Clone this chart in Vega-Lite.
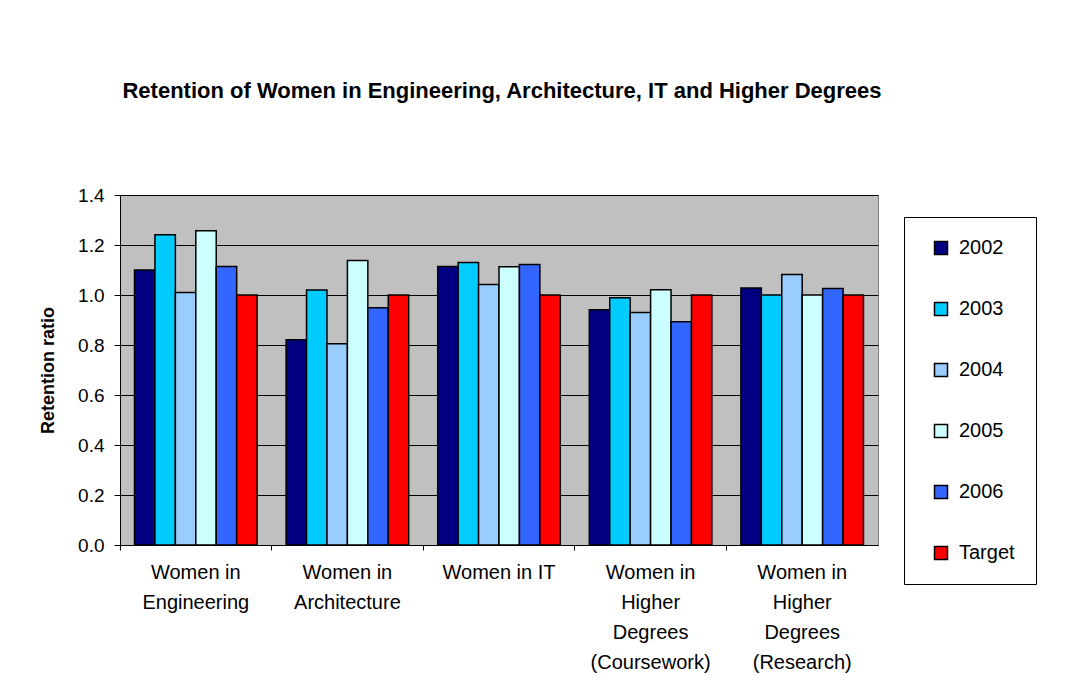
{
  "$schema": "https://vega.github.io/schema/vega-lite/v6.json",
  "autosize": {"type": "none"},
  "width": 758,
  "height": 350,
  "padding": {"left": 120, "top": 195, "right": 208, "bottom": 154},
  "background": "white",
  "title": {
    "text": "Retention of Women in Engineering, Architecture, IT and Higher Degrees",
    "font": "Liberation Sans",
    "fontSize": 22,
    "fontWeight": "bold",
    "color": "black",
    "anchor": "middle",
    "baseline": "alphabetic",
    "offset": 66,
    "dx": 3
  },
  "config": {
    "view": {"fill": "#C0C0C0", "stroke": "#808080", "strokeWidth": 1},
    "font": "Liberation Sans"
  },
  "data": {
    "values": [
      {"category": "Women in|Engineering", "series": "2002", "value": 1.10},
      {"category": "Women in|Engineering", "series": "2003", "value": 1.241},
      {"category": "Women in|Engineering", "series": "2004", "value": 1.01},
      {"category": "Women in|Engineering", "series": "2005", "value": 1.257},
      {"category": "Women in|Engineering", "series": "2006", "value": 1.114},
      {"category": "Women in|Engineering", "series": "Target", "value": 1.0},
      {"category": "Women in|Architecture", "series": "2002", "value": 0.821},
      {"category": "Women in|Architecture", "series": "2003", "value": 1.02},
      {"category": "Women in|Architecture", "series": "2004", "value": 0.805},
      {"category": "Women in|Architecture", "series": "2005", "value": 1.138},
      {"category": "Women in|Architecture", "series": "2006", "value": 0.949},
      {"category": "Women in|Architecture", "series": "Target", "value": 1.0},
      {"category": "Women in IT", "series": "2002", "value": 1.114},
      {"category": "Women in IT", "series": "2003", "value": 1.13},
      {"category": "Women in IT", "series": "2004", "value": 1.042},
      {"category": "Women in IT", "series": "2005", "value": 1.113},
      {"category": "Women in IT", "series": "2006", "value": 1.122},
      {"category": "Women in IT", "series": "Target", "value": 1.0},
      {"category": "Women in|Higher|Degrees|(Coursework)", "series": "2002", "value": 0.941},
      {"category": "Women in|Higher|Degrees|(Coursework)", "series": "2003", "value": 0.989},
      {"category": "Women in|Higher|Degrees|(Coursework)", "series": "2004", "value": 0.93},
      {"category": "Women in|Higher|Degrees|(Coursework)", "series": "2005", "value": 1.021},
      {"category": "Women in|Higher|Degrees|(Coursework)", "series": "2006", "value": 0.893},
      {"category": "Women in|Higher|Degrees|(Coursework)", "series": "Target", "value": 1.0},
      {"category": "Women in|Higher|Degrees|(Research)", "series": "2002", "value": 1.028},
      {"category": "Women in|Higher|Degrees|(Research)", "series": "2003", "value": 1.0},
      {"category": "Women in|Higher|Degrees|(Research)", "series": "2004", "value": 1.082},
      {"category": "Women in|Higher|Degrees|(Research)", "series": "2005", "value": 1.0},
      {"category": "Women in|Higher|Degrees|(Research)", "series": "2006", "value": 1.026},
      {"category": "Women in|Higher|Degrees|(Research)", "series": "Target", "value": 1.0}
    ]
  },
  "mark": {"type": "bar", "stroke": "black", "strokeWidth": 1.5},
  "encoding": {
    "x": {
      "field": "category",
      "type": "nominal",
      "sort": null,
      "scale": {"paddingInner": 0, "paddingOuter": 0},
      "axis": {
        "title": null,
        "labelAngle": 0,
        "labelExpr": "split(datum.label, '|')",
        "labelFont": "Liberation Sans",
        "labelFontSize": 20,
        "labelColor": "black",
        "labelLineHeight": 30,
        "labelPadding": 12,
        "labelLimit": 300,
        "bandPosition": 0,
        "tickColor": "black",
        "tickSize": 5,
        "domainColor": "black",
        "grid": false
      }
    },
    "xOffset": {
      "field": "series",
      "type": "nominal",
      "sort": ["2002", "2003", "2004", "2005", "2006", "Target"],
      "scale": {"paddingInner": 0, "paddingOuter": 0.71}
    },
    "y": {
      "field": "value",
      "type": "quantitative",
      "scale": {"domain": [0, 1.4], "nice": false},
      "axis": {
        "title": "Retention ratio",
        "titleFont": "Liberation Sans",
        "titleFontSize": 18,
        "titleFontWeight": "bold",
        "titleColor": "black",
        "titlePadding": 20,
        "values": [0, 0.2, 0.4, 0.6, 0.8, 1.0, 1.2, 1.4],
        "format": ".1f",
        "labelFont": "Liberation Sans",
        "labelFontSize": 19,
        "labelColor": "black",
        "labelPadding": 10,
        "tickColor": "black",
        "tickSize": 6,
        "domainColor": "black",
        "grid": true,
        "gridColor": "black"
      }
    },
    "fill": {
      "field": "series",
      "type": "nominal",
      "sort": ["2002", "2003", "2004", "2005", "2006", "Target"],
      "scale": {
        "domain": ["2002", "2003", "2004", "2005", "2006", "Target"],
        "range": ["#000080", "#00CCFF", "#99CCFF", "#CCFFFF", "#3366FF", "#FF0000"]
      },
      "legend": {
        "orient": "none",
        "legendX": 784,
        "legendY": 22,
        "title": null,
        "symbolType": "square",
        "symbolSize": 169,
        "symbolStrokeColor": "black",
        "symbolStrokeWidth": 1.5,
        "symbolOpacity": 1,
        "symbolOffset": 6,
        "labelFont": "Liberation Sans",
        "labelFontSize": 20,
        "labelColor": "black",
        "labelOffset": 8,
        "labelExpr": "datum.label + ' '",
        "rowPadding": 41,
        "padding": 21,
        "strokeColor": "black",
        "fillColor": "white"
      }
    }
  }
}
